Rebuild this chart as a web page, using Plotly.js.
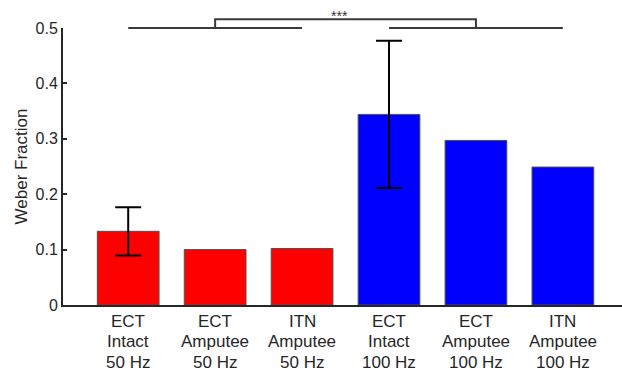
<!DOCTYPE html>
<html>
<head>
<meta charset="utf-8">
<script src="https://cdn.plot.ly/plotly-3.0.1.min.js"></script>
<style>html,body{margin:0;padding:0;background:#fff;}#chart{width:622px;height:371px;}</style>
</head>
<body>
<div id="chart"></div>
<script>
const labelTop = ["ECT", "ECT", "ITN", "ECT", "ECT", "ITN"];
const labelMid = ["Intact", "Amputee", "Amputee", "Intact", "Amputee", "Amputee"];
const labelBottom = ["50 Hz", "50 Hz", "50 Hz", "100 Hz", "100 Hz", "100 Hz"];
const positions = [1, 2, 3, 4, 5, 6];
const weberFraction = [0.133, 0.100, 0.102, 0.344, 0.297, 0.249];
const errors = [0.0435, null, null, 0.133, null, null];
const barColors = ["#ff0000", "#ff0000", "#ff0000", "#0000ff", "#0000ff", "#0000ff"];
const yTicks = [0, 0.1, 0.2, 0.3, 0.4, 0.5];
const yTickText = ["0", "0.1", "0.2", "0.3", "0.4", "0.5"];

// significance annotation
const groupLow = [1, 3];      // 50 Hz group span
const groupHigh = [4, 6];     // 100 Hz group span
const groupLevel = 0.5;
const bracketEnds = [2, 5];
const bracketLevel = 0.516;
const sigLabel = "***";
const sigLabelX = 3.43;

const yMax = 0.5;
const toPaper = v => v / yMax;
const lineStyle = {color: "#3a3a3a", width: 2};

const errIdx = positions.map((p, i) => i).filter(i => errors[i] !== null);

const traces = [
  {
    type: "bar",
    x: positions,
    y: weberFraction,
    width: 0.71,
    marker: {color: barColors, line: {color: "#505050", width: 1}},
    hoverinfo: "y",
    showlegend: false
  },
  {
    type: "scatter", mode: "markers",
    x: errIdx.map(i => positions[i]),
    y: errIdx.map(i => weberFraction[i]),
    marker: {opacity: 0, size: 1},
    error_y: {type: "data", array: errIdx.map(i => errors[i]), visible: true, color: "#000000", thickness: 2, width: 13},
    hoverinfo: "skip", showlegend: false
  }
];

const shapes = [
  {type: "line", xref: "x", yref: "paper", x0: groupLow[0], x1: groupLow[1], y0: toPaper(groupLevel), y1: toPaper(groupLevel), line: lineStyle},
  {type: "line", xref: "x", yref: "paper", x0: groupHigh[0], x1: groupHigh[1], y0: toPaper(groupLevel), y1: toPaper(groupLevel), line: lineStyle},
  {type: "path", xref: "x", yref: "paper",
   path: "M" + bracketEnds[0] + "," + toPaper(groupLevel) +
         " L" + bracketEnds[0] + "," + toPaper(bracketLevel) +
         " L" + bracketEnds[1] + "," + toPaper(bracketLevel) +
         " L" + bracketEnds[1] + "," + toPaper(groupLevel),
   line: lineStyle}
];

const annotations = [
  {x: sigLabelX, y: toPaper(bracketLevel), xref: "x", yref: "paper", text: sigLabel, showarrow: false,
   yanchor: "middle", yshift: 3, font: {size: 14, color: "#333333"}}
];
const lineShifts = [-16, -36.8, -57.5];
[labelTop, labelMid, labelBottom].forEach((arr, li) => {
  arr.forEach((t, i) => {
    annotations.push({x: positions[i], y: 0, xref: "x", yref: "paper", text: t, showarrow: false,
      yanchor: "middle", xanchor: "center", yshift: lineShifts[li],
      font: {size: 17, color: "#262626"}});
  });
});

const layout = {
  width: 622, height: 371,
  margin: {l: 63, r: 0, t: 28, b: 66},
  paper_bgcolor: "#ffffff", plot_bgcolor: "#ffffff",
  font: {family: "Liberation Sans, Arial, sans-serif", size: 16, color: "#262626"},
  xaxis: {
    range: [0.25, 6.68],
    tickvals: positions, showticklabels: false,
    ticks: "", showgrid: false, zeroline: false,
    showline: true, linecolor: "#262626", linewidth: 2,
    fixedrange: true
  },
  yaxis: {
    range: [0, yMax],
    tickvals: yTicks,
    ticktext: yTickText,
    ticks: "inside", ticklen: 4, tickwidth: 2, tickcolor: "#262626",
    showgrid: false, zeroline: false,
    showline: true, linecolor: "#262626", linewidth: 2,
    tickfont: {size: 16, color: "#262626"},
    title: {text: "Weber Fraction", font: {size: 17, color: "#262626"}, standoff: 4},
    fixedrange: true
  },
  shapes: shapes,
  annotations: annotations
};

Plotly.newPlot("chart", traces, layout, {displayModeBar: false, staticPlot: true});
</script>
</body>
</html>
